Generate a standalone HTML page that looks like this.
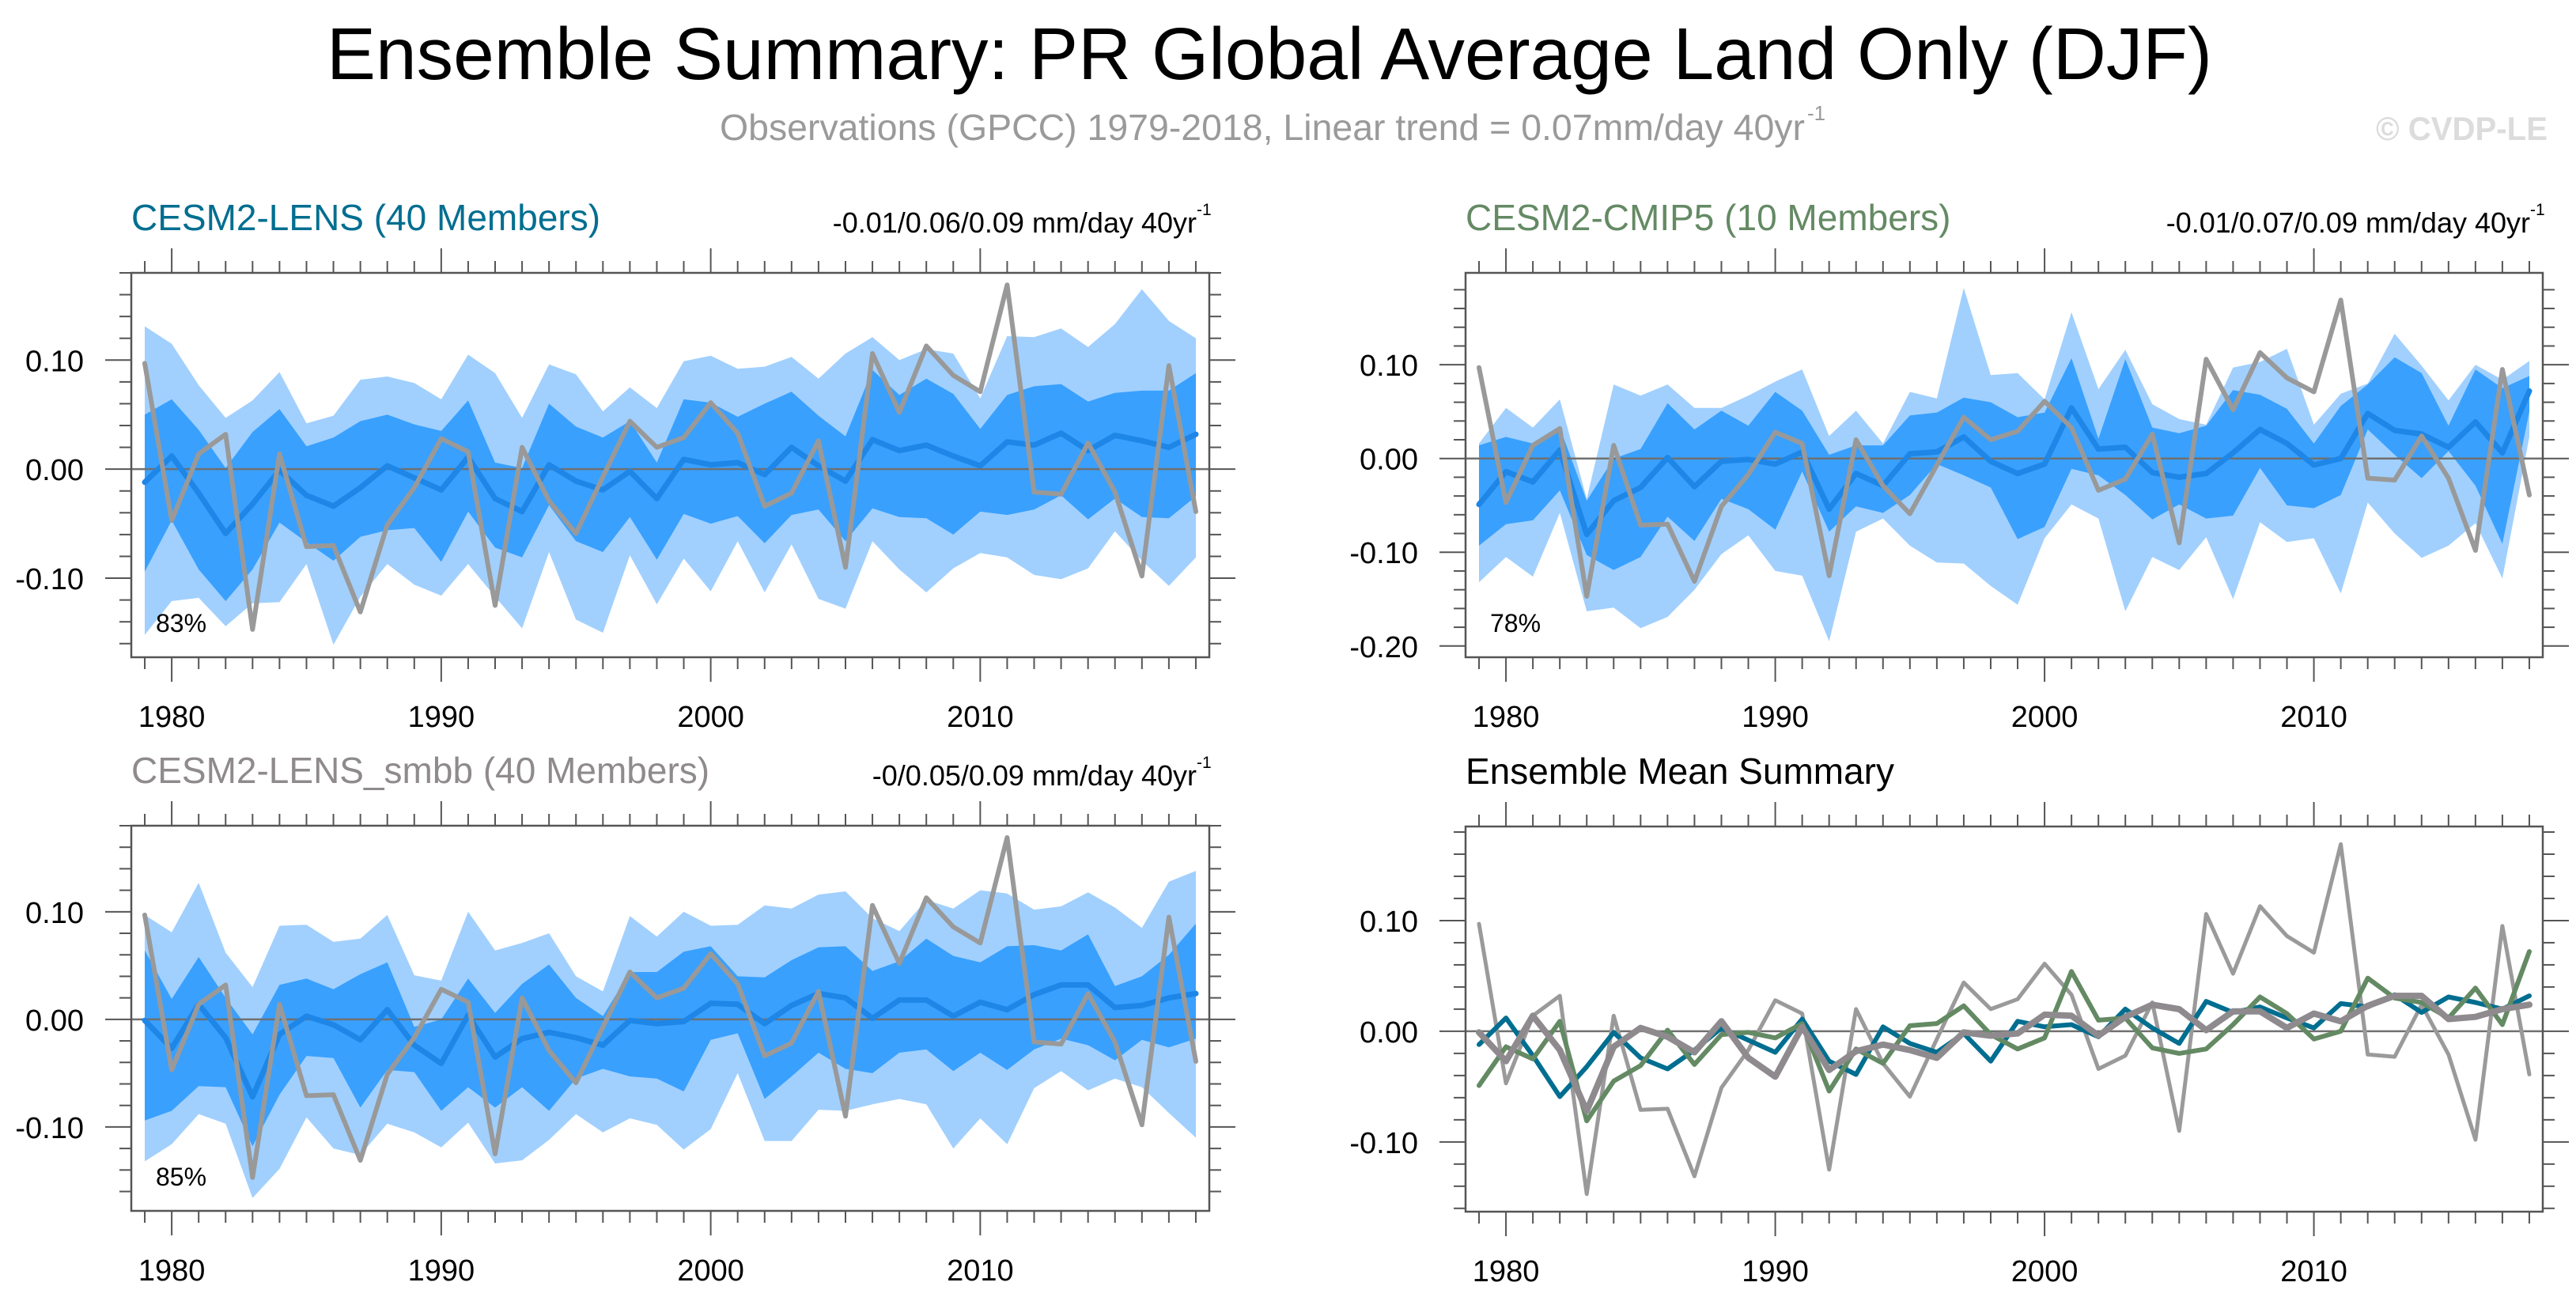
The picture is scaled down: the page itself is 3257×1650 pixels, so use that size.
<!DOCTYPE html>
<html><head><meta charset="utf-8"><style>
html,body{margin:0;padding:0;background:#fff;}
svg{display:block;font-family:"Liberation Sans",sans-serif;}
</style></head><body>
<svg id="chart" width="3257" height="1650" viewBox="0 0 3257 1650" xmlns="http://www.w3.org/2000/svg">
<rect width="3257" height="1650" fill="#fff"/>
<text x="413" y="100" font-size="93" textLength="2384" lengthAdjust="spacingAndGlyphs" fill="#000">Ensemble Summary: PR Global Average Land Only (DJF)</text>
<text x="910" y="177" font-size="46" fill="#9a9a9a" textLength="1372" lengthAdjust="spacingAndGlyphs">Observations (GPCC) 1979-2018, Linear trend = 0.07mm/day 40yr</text>
<text x="2285" y="152" font-size="26" fill="#9a9a9a">-1</text>
<text x="3004" y="177" font-size="42" font-weight="bold" fill="#dcdcdc" textLength="217" lengthAdjust="spacingAndGlyphs">© CVDP-LE</text>
<g id="plots"></g>
</svg>
<script>
const years = [1979,1980,1981,1982,1983,1984,1985,1986,1987,1988,1989,1990,1991,1992,1993,1994,1995,1996,1997,1998,1999,2000,2001,2002,2003,2004,2005,2006,2007,2008,2009,2010,2011,2012,2013,2014,2015,2016,2017,2018];
const obs = [0.097,-0.047,0.014,0.032,-0.147,0.014,-0.071,-0.070,-0.131,-0.051,-0.017,0.028,0.016,-0.125,0.020,-0.029,-0.059,-0.007,0.044,0.020,0.029,0.061,0.033,-0.034,-0.022,0.026,-0.090,0.106,0.052,0.113,0.086,0.071,0.169,-0.021,-0.023,0.024,-0.021,-0.098,0.095,-0.039];

const lensMean = [-0.012,0.012,-0.022,-0.059,-0.032,-0.001,-0.024,-0.034,-0.017,0.003,-0.008,-0.019,0.011,-0.027,-0.039,0.004,-0.011,-0.019,-0.002,-0.027,0.009,0.004,0.006,-0.005,0.020,0.003,-0.011,0.027,0.017,0.022,0.012,0.003,0.025,0.022,0.033,0.017,0.031,0.026,0.020,0.032];
const lensDarkHi = [0.050,0.064,0.036,0.001,0.034,0.055,0.021,0.029,0.044,0.050,0.041,0.035,0.063,0.006,0.001,0.060,0.039,0.029,0.044,0.006,0.064,0.061,0.048,0.060,0.071,0.049,0.030,0.091,0.068,0.083,0.069,0.037,0.068,0.076,0.078,0.062,0.070,0.072,0.072,0.088];
const lensDarkLo = [-0.094,-0.047,-0.092,-0.121,-0.092,-0.049,-0.067,-0.084,-0.062,-0.056,-0.054,-0.085,-0.039,-0.072,-0.081,-0.033,-0.066,-0.076,-0.044,-0.083,-0.041,-0.050,-0.043,-0.068,-0.042,-0.037,-0.066,-0.036,-0.044,-0.045,-0.060,-0.039,-0.042,-0.037,-0.024,-0.046,-0.027,-0.044,-0.045,-0.025];
const lensLightHi = [0.131,0.115,0.077,0.047,0.063,0.089,0.042,0.049,0.082,0.085,0.079,0.064,0.105,0.088,0.047,0.096,0.087,0.053,0.075,0.056,0.099,0.104,0.092,0.094,0.103,0.083,0.106,0.121,0.100,0.110,0.106,0.065,0.122,0.121,0.129,0.112,0.133,0.165,0.136,0.120];
const lensLightLo = [-0.152,-0.121,-0.118,-0.144,-0.123,-0.122,-0.087,-0.161,-0.117,-0.087,-0.106,-0.116,-0.087,-0.117,-0.146,-0.076,-0.138,-0.150,-0.079,-0.124,-0.082,-0.112,-0.066,-0.113,-0.069,-0.119,-0.128,-0.066,-0.092,-0.113,-0.091,-0.077,-0.081,-0.097,-0.101,-0.091,-0.057,-0.084,-0.107,-0.081];

const cmipMean = [-0.049,-0.014,-0.025,0.009,-0.081,-0.045,-0.031,0.001,-0.030,-0.003,-0.001,-0.006,0.007,-0.054,-0.016,-0.029,0.005,0.007,0.023,-0.003,-0.016,-0.006,0.054,0.010,0.012,-0.015,-0.020,-0.016,0.006,0.031,0.016,-0.007,0.000,0.048,0.030,0.026,0.012,0.039,0.006,0.072];
const cmipDarkHi = [0.014,0.023,0.016,0.033,-0.045,0.000,0.010,0.059,0.031,0.051,0.035,0.071,0.051,0.004,0.014,0.014,0.046,0.049,0.065,0.060,0.044,0.049,0.107,0.021,0.106,0.033,0.027,0.035,0.073,0.068,0.053,0.016,0.056,0.079,0.108,0.091,0.035,0.095,0.075,0.088];
const cmipDarkLo = [-0.093,-0.070,-0.066,-0.034,-0.103,-0.119,-0.105,-0.062,-0.088,-0.043,-0.054,-0.076,-0.014,-0.078,-0.051,-0.058,-0.039,-0.006,-0.018,-0.031,-0.086,-0.073,-0.011,-0.018,-0.039,-0.065,-0.049,-0.064,-0.061,-0.010,-0.050,-0.053,-0.039,0.031,0.004,-0.021,0.008,-0.029,-0.091,0.050];
const cmipLightHi = [0.016,0.054,0.033,0.063,-0.043,0.079,0.067,0.079,0.054,0.054,0.067,0.082,0.095,0.024,0.051,0.016,0.071,0.064,0.182,0.089,0.091,0.063,0.156,0.074,0.116,0.058,0.042,0.036,0.097,0.103,0.117,0.036,0.069,0.080,0.133,0.099,0.062,0.100,0.084,0.104];
const cmipLightLo = [-0.132,-0.105,-0.126,-0.058,-0.163,-0.159,-0.181,-0.169,-0.140,-0.102,-0.082,-0.120,-0.125,-0.195,-0.078,-0.064,-0.093,-0.111,-0.112,-0.136,-0.156,-0.085,-0.049,-0.064,-0.163,-0.105,-0.119,-0.084,-0.150,-0.068,-0.089,-0.085,-0.144,-0.047,-0.080,-0.106,-0.093,-0.069,-0.128,0.023];

const smbbMean = [-0.001,-0.027,0.014,-0.017,-0.072,-0.014,0.003,-0.005,-0.019,0.009,-0.024,-0.041,0.004,-0.035,-0.018,-0.012,-0.017,-0.024,-0.001,-0.004,-0.002,0.015,0.014,-0.004,0.013,0.024,0.020,0.001,0.018,0.018,0.003,0.016,0.009,0.023,0.032,0.032,0.011,0.013,0.020,0.024];
const smbbDarkHi = [0.064,0.019,0.058,0.020,-0.014,0.032,0.038,0.028,0.042,0.053,-0.007,0.000,0.038,0.006,0.033,0.051,0.020,0.003,0.044,0.044,0.063,0.068,0.040,0.039,0.055,0.067,0.068,0.045,0.054,0.075,0.059,0.053,0.068,0.069,0.064,0.079,0.031,0.040,0.060,0.089];
const smbbDarkLo = [-0.094,-0.085,-0.062,-0.063,-0.118,-0.070,-0.034,-0.036,-0.082,-0.047,-0.049,-0.085,-0.063,-0.082,-0.063,-0.085,-0.055,-0.046,-0.053,-0.055,-0.067,-0.019,-0.013,-0.074,-0.053,-0.031,-0.046,-0.050,-0.031,-0.028,-0.048,-0.031,-0.047,-0.028,-0.018,-0.024,-0.038,-0.019,-0.026,-0.018];
const smbbLightHi = [0.097,0.081,0.127,0.062,0.030,0.087,0.088,0.072,0.075,0.097,0.041,0.036,0.100,0.064,0.071,0.080,0.040,0.026,0.096,0.077,0.100,0.087,0.088,0.106,0.103,0.116,0.119,0.094,0.082,0.111,0.103,0.120,0.117,0.102,0.105,0.118,0.104,0.085,0.128,0.138];
const smbbLightLo = [-0.132,-0.116,-0.088,-0.097,-0.166,-0.139,-0.091,-0.120,-0.126,-0.097,-0.105,-0.119,-0.096,-0.134,-0.131,-0.112,-0.088,-0.105,-0.092,-0.098,-0.121,-0.102,-0.050,-0.113,-0.113,-0.084,-0.085,-0.079,-0.074,-0.079,-0.120,-0.092,-0.116,-0.064,-0.048,-0.066,-0.055,-0.063,-0.087,-0.110];

const xTickLabels = ["1980","1990","2000","2010"];
const yTickLabelsA = ["0.10","0.00","-0.10"];
const yTickLabelsB = ["0.10","0.00","-0.10","-0.20"];

const NS = "http://www.w3.org/2000/svg";
const root = document.getElementById("plots");
function mk(tag, attrs, parent){const e=document.createElementNS(NS,tag);for(const k in attrs)e.setAttribute(k,attrs[k]);(parent||root).appendChild(e);return e;}

function panel(cfg){
  const g = mk("g",{});
  
  
  const xs = y => cfg.x0 + (y - 1978.5) / 40 * (cfg.x1 - cfg.x0);
  const ys = v => cfg.y1 - (v - cfg.ymin) / (cfg.ymax - cfg.ymin) * (cfg.y1 - cfg.y0);
  function band(hi, lo, fill, nm){
    let d = "M" + years.map((y,i)=>xs(y).toFixed(1)+","+ys(hi[i]).toFixed(1)).join("L");
    for(let i=years.length-1;i>=0;i--) d += "L"+xs(years[i]).toFixed(1)+","+ys(lo[i]).toFixed(1);
    const p = mk("path",{d:d+"Z",fill:fill},g);
    
    
  }
  function line(vals, color, w, nm){
    const d = "M" + years.map((y,i)=>xs(y).toFixed(1)+","+ys(vals[i]).toFixed(1)).join("L");
    const p = mk("path",{d:d,fill:"none",stroke:color,"stroke-width":w,"stroke-linejoin":"round","stroke-linecap":"round"},g);
    
    
  }
  if(cfg.bands){
    band(cfg.bands[0], cfg.bands[1], "#a1d0fe", "outer-range-band");
    band(cfg.bands[2], cfg.bands[3], "#39a0fe", "inner-range-band");
  }
  const z = mk("line",{x1:cfg.x0,x2:cfg.x1,y1:ys(0),y2:ys(0),stroke:"#707070","stroke-width":2.5},g);
  
  
  cfg.lines.forEach(l=>line(l[0],l[1],l[2],l[3]));
  const fr = mk("rect",{x:cfg.x0,y:cfg.y0,width:cfg.x1-cfg.x0,height:cfg.y1-cfg.y0,fill:"none",stroke:"#555","stroke-width":2.5},g);
  
  
  years.forEach(y=>{
    const x = xs(y), major = y % 10 === 0, L = major ? 31 : 15;
    mk("line",{x1:x,x2:x,y1:cfg.y0,y2:cfg.y0-L,stroke:"#555","stroke-width":2},g);
    mk("line",{x1:x,x2:x,y1:cfg.y1,y2:cfg.y1+L,stroke:"#555","stroke-width":2},g);
  });
  xTickLabels.forEach(lbl=>{
    const t = mk("text",{x:xs(+lbl),y:cfg.y1+88,"font-size":38,"text-anchor":"middle",fill:"#000"},g);
    t.textContent = lbl;
    
    
  });
  for(let k=Math.ceil(cfg.ymin/0.02-1e-6);k<=Math.floor(cfg.ymax/0.02+1e-6);k++){
    const v = k*0.02, y = ys(v), major = (k%5===0), L = major?33:15;
    mk("line",{x1:cfg.x0,x2:cfg.x0-L,y1:y,y2:y,stroke:"#555","stroke-width":2},g);
    mk("line",{x1:cfg.x1,x2:cfg.x1+L,y1:y,y2:y,stroke:"#555","stroke-width":2},g);
  }
  cfg.yLabels.forEach(lbl=>{
    const t = mk("text",{x:cfg.x0-60,y:ys(parseFloat(lbl))+14,"font-size":38,"text-anchor":"end",fill:"#000"},g);
    t.textContent = lbl;
    
    
  });
  const tt = mk("text",{x:cfg.x0,y:cfg.y0-54,"font-size":46,fill:cfg.titleColor},g);
  tt.textContent = cfg.title;
  
  
  if(cfg.trend){
    const tr = mk("text",{x:cfg.x1-16,y:cfg.y0-51,"font-size":36,"text-anchor":"end",fill:"#000"},g);
    tr.textContent = cfg.trend;
    
    
    const sp = mk("text",{x:cfg.x1-16,y:cfg.y0-73,"font-size":21,fill:"#000"},g);
    sp.textContent = "-1";
    
    
  }
  if(cfg.pct){
    const pc = mk("text",{x:cfg.x0+31,y:cfg.y1-32,"font-size":32,fill:"#000"},g);
    pc.textContent = cfg.pct;
    
    
  }
}

panel({name:"cesm2-lens-panel",x0:166,x1:1529,y0:345,y1:831,ymin:-0.1725,ymax:0.18,
  bands:[lensLightHi,lensLightLo,lensDarkHi,lensDarkLo],
  lines:[[lensMean,"#1e86e6",7,"ensemble-mean-line"],[obs,"#999",6,"observations-line"]],
  yLabels:yTickLabelsA,title:"CESM2-LENS (40 Members)",titleColor:"#006e90",
  trend:"-0.01/0.06/0.09 mm/day 40yr",pct:"83%"});
panel({name:"cesm2-cmip5-panel",x0:1853,x1:3215,y0:345,y1:831,ymin:-0.212,ymax:0.198,
  bands:[cmipLightHi,cmipLightLo,cmipDarkHi,cmipDarkLo],
  lines:[[cmipMean,"#1e86e6",7,"ensemble-mean-line"],[obs,"#999",6,"observations-line"]],
  yLabels:yTickLabelsB,title:"CESM2-CMIP5 (10 Members)",titleColor:"#648a64",
  trend:"-0.01/0.07/0.09 mm/day 40yr",pct:"78%"});
panel({name:"cesm2-lens-smbb-panel",x0:166,x1:1529,y0:1044,y1:1531,ymin:-0.178,ymax:0.18,
  bands:[smbbLightHi,smbbLightLo,smbbDarkHi,smbbDarkLo],
  lines:[[smbbMean,"#1e86e6",7,"ensemble-mean-line"],[obs,"#999",6,"observations-line"]],
  yLabels:yTickLabelsA,title:"CESM2-LENS_smbb (40 Members)",titleColor:"#8f8a8c",
  trend:"-0/0.05/0.09 mm/day 40yr",pct:"85%"});
panel({name:"ensemble-mean-summary-panel",x0:1853,x1:3215,y0:1045,y1:1532,ymin:-0.163,ymax:0.185,
  bands:null,
  lines:[[obs,"#9a9a9a",5,"observations-line"],[lensMean,"#006e90",6,"cesm2-lens-mean-line"],[cmipMean,"#648a64",6,"cesm2-cmip5-mean-line"],[smbbMean,"#8e8a8e",8,"cesm2-lens-smbb-mean-line"]],
  yLabels:yTickLabelsA,title:"Ensemble Mean Summary",titleColor:"#000",trend:null,pct:null});
</script>
</body></html>
